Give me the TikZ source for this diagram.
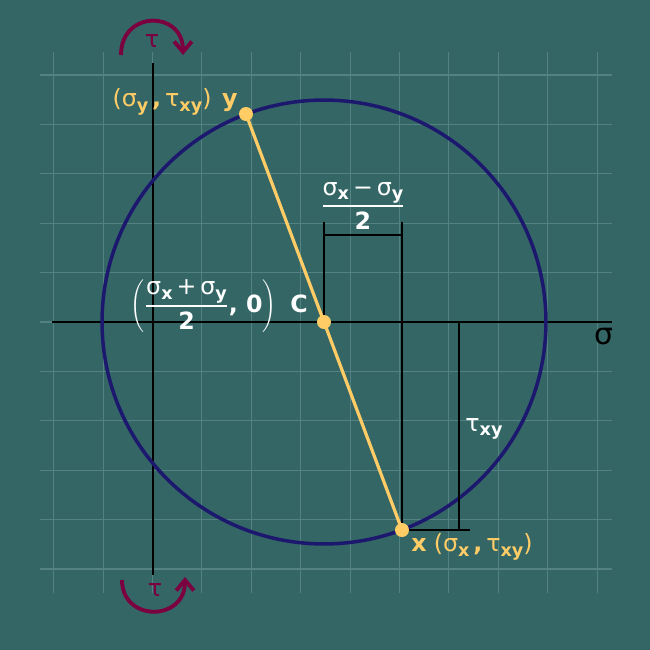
\documentclass[tikz,border=0pt]{standalone}
\usepackage{fontspec}
\setmainfont{DejaVu Sans}
\usetikzlibrary{arrows.meta}
\definecolor{bgc}{RGB}{52,102,102}
\definecolor{gridc}{RGB}{84,130,130}
\definecolor{navy}{RGB}{28,24,110}
\definecolor{gold}{RGB}{255,204,102}
\definecolor{maroonc}{RGB}{122,0,64}
\newcommand\sbx[1]{\raisebox{-0.35ex}{\fontsize{10}{11}\selectfont\bfseries #1}}
\newcommand\lblfont{\fontsize{13.5}{15}\selectfont}
\newcommand\frc[2]{{\hbox{#1}\above 1.1pt\hbox{\rule{0pt}{1.6ex}#2}}}
\begin{document}
\begin{tikzpicture}[x=0.02cm,y=-0.02cm,
  gridline/.style={gridc,line width=0.6pt},
  axisline/.style={black,line width=1.1pt},
  dimline/.style={black,line width=1.1pt},
  yline/.style={gold,line width=1.8pt},
  circline/.style={navy,line width=2pt},
  dot/.style={circle,fill=gold,inner sep=0pt,minimum size=0.28cm},
  rot/.style={maroonc,line width=2.2pt,-{Straight Barb[length=6pt,width=10pt,line width=2.2pt]}},
  lbl/.style={inner sep=0pt,font=\lblfont}]
\fill[bgc] (0,0) rectangle (650,650);
\useasboundingbox (0,0) rectangle (650,650);
% grid
\foreach \i in {-2,...,9} \draw[gridline] ({152.5+49.4*\i},52) -- ({152.5+49.4*\i},593);
\foreach \j in {-5,...,5} \draw[gridline] (40,{322+49.4*\j}) -- (612,{322+49.4*\j});
% axes
\coordinate (vt) at (153,63);
\coordinate (vb) at (153,575);
\coordinate (hl) at (52,322);
\coordinate (hr) at (612,322);
\draw[axisline] (vt) -- (vb);
\draw[axisline] (hl) -- (hr);
% points
\coordinate (Cp) at (324,322);
\coordinate (Xp) at (402,530);
\coordinate (Yp) at (246,114);
% circle
\draw[circline] (Cp) circle[radius=4.44cm];
% dimension lines
\coordinate (d1) at (324,222);
\coordinate (d2) at (402,222);
\coordinate (b1) at (324,235);
\coordinate (b2) at (402,235);
\coordinate (t1) at (459,322);
\coordinate (t2) at (459,530);
\coordinate (t3) at (470,530);
\draw[dimline] (d1) -- (Cp);
\draw[dimline] (d2) -- (Xp);
\draw[dimline] (b1) -- (b2);
\draw[dimline] (t1) -- (t2);
\draw[dimline] (Xp) -- (t3);
% diameter
\draw[yline] (Yp) -- (Xp);
\node[dot] (Y) at (Yp) {};
\node[dot] (X) at (Xp) {};
\node[dot] (C) at (Cp) {};
% rotation arrows
\coordinate (ra1) at (121,55);
\coordinate (ra2) at (183,55);
\draw[rot] (ra1) .. controls (121,10) and (183,10) .. (ra2);
\coordinate (rb1) at (122,580);
\coordinate (rb2) at (185,577);
\draw[rot] (rb1) .. controls (122,622) and (185,622) .. (rb2);
\node[lbl,maroonc,font=\fontsize{13.5}{15}\selectfont] (tauT) at (152,41) {τ};
\node[lbl,maroonc,font=\fontsize{13.5}{15}\selectfont] (tauB) at (155,590) {τ};
% labels
\node[lbl,black,font=\fontsize{17}{18}\selectfont] (sig) at (604,337) {σ};
\node[lbl,gold,anchor=east] (ylab) at (238,102) {(σ\sbx{y}\,\textbf{,}\,τ\sbx{xy})\hspace{0.45em}\textbf{y}};
\node[lbl,gold,anchor=west] (xlab) at (411,547) {\textbf{x}\hspace{0.3em}(σ\sbx{x}\,\textbf{,}\,τ\sbx{xy})};
\node[lbl,white] (txy) at (484,429) {τ\sbx{xy}};
\node[lbl,white] (dfrac) at (363,206) {$\frc{σ\sbx{x}\,−\,σ\sbx{y}}{\textbf{2}}$};
\node[lbl,white,anchor=east] (cfrac) at (277,306) {$\left(\frc{σ\sbx{x}\,+\,σ\sbx{y}}{\textbf{2}}\hbox{\textbf{, 0}}\right)$};
\node[lbl,white] (clab) at (299,304) {\textbf{C}};
\end{tikzpicture}
\end{document}
